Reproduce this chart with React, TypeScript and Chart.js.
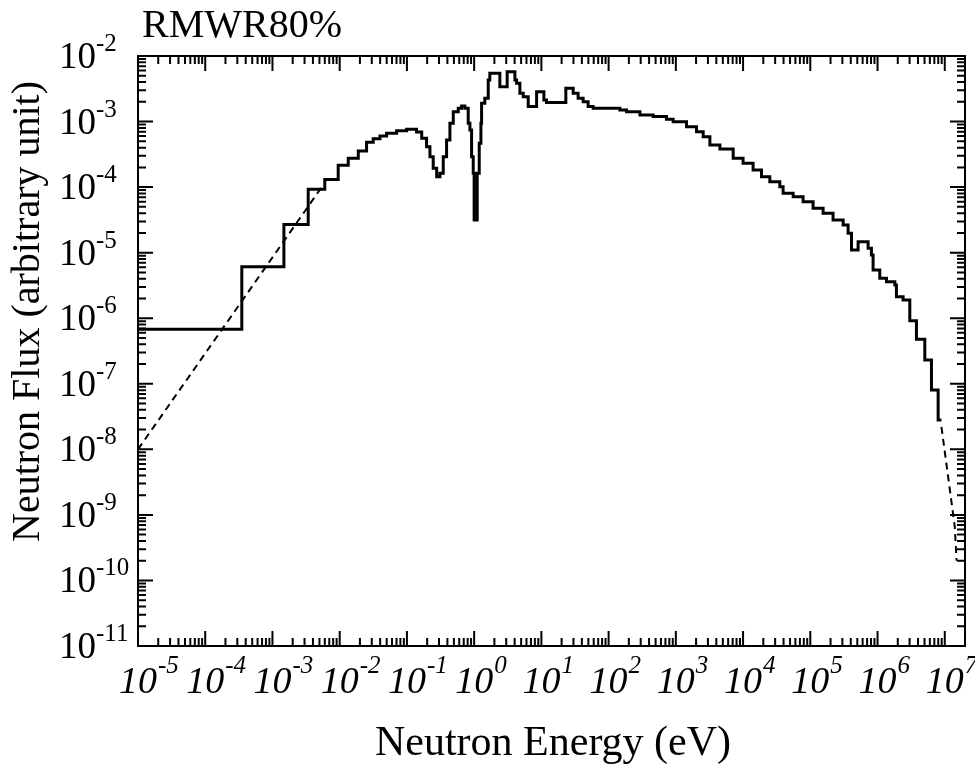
import React, { useEffect, useRef } from 'react';
import { Chart, registerables } from 'chart.js';

Chart.register(...registerables);

// ---- data ----
// lower group boundary energies (eV); the final entry closes the last group
const energyEV = [
  1e-5, 3.5e-4, 1.48e-3, 3.4e-3, 6.0e-3, 9.5e-3, 1.34e-2, 1.89e-2, 2.51e-2, 3.15e-2,
  3.97e-2, 4.99e-2, 7.03e-2, 9.9e-2, 0.139, 0.166, 0.196, 0.22, 0.246, 0.277,
  0.31, 0.347, 0.389, 0.436, 0.489, 0.58, 0.65, 0.728, 0.816, 0.865,
  0.916, 0.969, 1.0, 1.11, 1.19, 1.26, 1.29, 1.44, 1.62, 1.71,
  2.41, 3.1, 4.04, 4.28, 4.79, 5.37, 6.37, 8.49, 10.9, 11.9,
  23.1, 29.7, 35.2, 41.8, 49.6, 58.9, 147, 185, 292, 460,
  726, 912, 1440, 2030, 2550, 3210, 4520, 7130, 1e4, 1.41e4,
  1.88e4, 2.5e4, 3.52e4, 3.94e4, 5.56e4, 7.82e4, 1.1e5, 1.55e5, 2.18e5, 3.08e5,
  3.65e5, 4.1e5, 5.14e5, 7.24e5, 8.11e5, 8.59e5, 1.08e6, 1.36e6, 1.81e6, 1.91e6,
  2.4e6, 3.02e6, 3.79e6, 5.05e6, 6.34e6, 7.97e6, 8.93e6,
];
const fluxGroup = [
  6.8e-7, 6.1e-6, 2.7e-5, 9.3e-5, 1.31e-4, 2.15e-4, 2.75e-4, 3.56e-4, 4.83e-4, 5.48e-4,
  6.03e-4, 6.62e-4, 7.26e-4, 7.62e-4, 6.93e-4, 5.56e-4, 4.14e-4, 2.91e-4, 1.94e-4, 1.44e-4,
  1.63e-4, 2.91e-4, 5.24e-4, 9.4e-4, 1.41e-3, 1.59e-3, 1.73e-3, 1.59e-3, 9.4e-4, 7.43e-4,
  2.91e-4, 1.63e-4, 3.15e-5, 1.63e-4, 4.66e-4, 9.4e-4, 1.9e-3, 2.26e-3, 4.31e-3, 5.44e-3,
  3.4e-3, 5.77e-3, 4.31e-3, 3.83e-3, 2.7e-3, 2.4e-3, 1.69e-3, 2.86e-3, 2.13e-3, 1.96e-3,
  3.21e-3, 2.7e-3, 2.26e-3, 2.01e-3, 1.69e-3, 1.59e-3, 1.5e-3, 1.41e-3, 1.26e-3, 1.19e-3,
  1.08e-3, 9.95e-4, 8.35e-4, 7.0e-4, 5.87e-4, 4.39e-4, 3.81e-4, 2.75e-4, 2.31e-4, 1.82e-4,
  1.44e-4, 1.21e-4, 1.01e-4, 8.03e-5, 7.14e-5, 5.99e-5, 4.74e-5, 3.98e-5, 3.15e-5, 2.64e-5,
  1.97e-5, 1.1e-5, 1.47e-5, 1.17e-5, 9.23e-6, 5.44e-6, 4.07e-6, 3.61e-6, 3.21e-6, 2.13e-6,
  1.9e-6, 9.16e-7, 4.77e-7, 2.31e-7, 8.03e-8, 2.8e-8, 2.8e-8,
];
const dashedLowEnergy = [1e-5, 5.4e-3];
const dashedLowFlux = [1.0e-8, 1.0e-4];
const dashedHighEnergy = [8.93e6, 1.41e7, 1.5e7];
const dashedHighFlux = [2.2e-8, 6.6e-10, 2.0e-10];

const xDecades = [-5, -4, -3, -2, -1, 0, 1, 2, 3, 4, 5, 6, 7];
const yDecades = [-11, -10, -9, -8, -7, -6, -5, -4, -3, -2];
const X_MIN = 1e-5;
const X_MAX = 2e7;
const Y_MIN = 1e-11;
const Y_MAX = 1e-2;

const chartTitle = 'RMWR80%';
const xTitle = 'Neutron Energy (eV)';
const yTitle = 'Neutron Flux (arbitrary unit)';

const FF = '"Liberation Serif", "Times New Roman", "DejaVu Serif", serif';

const annotate = {
  id: 'annotate',
  afterDraw(chart: any) {
    const { ctx, chartArea: a } = chart;
    const xs = chart.scales.x;
    const ys = chart.scales.y;
    ctx.save();
    ctx.strokeStyle = '#000';
    ctx.fillStyle = '#000';
    ctx.lineWidth = 2;
    ctx.strokeRect(a.left, a.top, a.right - a.left, a.bottom - a.top);

    // inward tick marks on all four sides
    ctx.beginPath();
    for (const d of xDecades) {
      for (let k = 1; k <= 9; k++) {
        const v = k * Math.pow(10, d);
        if (v < X_MIN * 0.999 || v > X_MAX * 0.999) continue;
        const px = xs.getPixelForValue(v);
        const len = k === 1 ? 15 : 8;
        ctx.moveTo(px, a.bottom);
        ctx.lineTo(px, a.bottom - len);
        ctx.moveTo(px, a.top);
        ctx.lineTo(px, a.top + len);
      }
    }
    for (const d of yDecades) {
      for (let k = 1; k <= 9; k++) {
        const v = k * Math.pow(10, d);
        if (v < Y_MIN * 0.999 || v > Y_MAX * 1.001) continue;
        const py = ys.getPixelForValue(v);
        const len = k === 1 ? 15 : 8;
        ctx.moveTo(a.left, py);
        ctx.lineTo(a.left + len, py);
        ctx.moveTo(a.right, py);
        ctx.lineTo(a.right - len, py);
      }
    }
    ctx.stroke();

    // y tick labels
    ctx.textBaseline = 'alphabetic';
    for (const t of ys.ticks) {
      const e = Math.round(Math.log10(t.value));
      const py = ys.getPixelForValue(t.value);
      ctx.font = `37px ${FF}`;
      ctx.textAlign = 'left';
      ctx.fillText('10', 59, py + 12);
      const w = ctx.measureText('10').width;
      ctx.font = `25px ${FF}`;
      ctx.fillText(String(e), 59 + w, py - 5);
    }
    // x tick labels
    for (const t of xs.ticks) {
      const e = Math.round(Math.log10(t.value));
      const px = xs.getPixelForValue(t.value);
      ctx.font = `italic 38px ${FF}`;
      ctx.textAlign = 'center';
      ctx.fillText('10', px, 693);
      const w = ctx.measureText('10').width;
      ctx.font = `italic 25px ${FF}`;
      ctx.textAlign = 'left';
      ctx.fillText(String(e), px + w / 2 + 1, 673);
    }

    // titles
    ctx.font = `40px ${FF}`;
    ctx.textAlign = 'left';
    ctx.fillText(chartTitle, 142, 37);
    ctx.font = `42px ${FF}`;
    ctx.textAlign = 'center';
    ctx.fillText(xTitle, 553, 755);
    ctx.translate(39, 311.5);
    ctx.rotate(-Math.PI / 2);
    ctx.font = `40px ${FF}`;
    ctx.textAlign = 'center';
    ctx.fillText(yTitle, 0, 0);
    ctx.restore();
  },
};

export default function App() {
  const ref = useRef<HTMLCanvasElement | null>(null);
  useEffect(() => {
    if (!ref.current) return;
    const solid = energyEV.map((e, i) => ({ x: e, y: fluxGroup[i] }));
    const low = dashedLowEnergy.map((e, i) => ({ x: e, y: dashedLowFlux[i] }));
    const high = dashedHighEnergy.map((e, i) => ({ x: e, y: dashedHighFlux[i] }));
    const chart = new Chart(ref.current, {
      type: 'line',
      data: {
        datasets: [
          {
            data: low,
            borderColor: '#000',
            borderWidth: 2,
            borderDash: [7, 5],
            pointRadius: 0,
            fill: false,
          },
          {
            data: high,
            borderColor: '#000',
            borderWidth: 2,
            borderDash: [7, 5],
            pointRadius: 0,
            fill: false,
          },
          {
            data: solid,
            borderColor: '#000',
            borderWidth: 3,
            stepped: true,
            pointRadius: 0,
            fill: false,
            borderJoinStyle: 'miter',
          },
        ],
      },
      options: {
        animation: false,
        responsive: true,
        maintainAspectRatio: false,
        layout: { padding: { top: 56, right: 10, left: 0, bottom: 0 } },
        plugins: {
          legend: { display: false },
          tooltip: { enabled: false },
          title: { display: false },
        },
        scales: {
          x: {
            type: 'logarithmic',
            min: X_MIN,
            max: X_MAX,
            position: 'bottom',
            grid: { display: false, drawTicks: false },
            border: { display: false },
            ticks: { display: false },
            afterBuildTicks: (s: any) => {
              s.ticks = xDecades.map((d) => ({ value: Math.pow(10, d) }));
            },
            afterFit: (s: any) => {
              s.height = 122;
            },
          },
          y: {
            type: 'logarithmic',
            min: Y_MIN,
            max: Y_MAX,
            position: 'left',
            grid: { display: false, drawTicks: false },
            border: { display: false },
            ticks: { display: false },
            afterBuildTicks: (s: any) => {
              s.ticks = yDecades.map((d) => ({ value: Math.pow(10, d) }));
            },
            afterFit: (s: any) => {
              s.width = 138;
            },
          },
        },
      } as any,
      plugins: [annotate],
    });
    return () => chart.destroy();
  }, []);
  return (
    <div style={{ position: 'fixed', left: 0, top: 0, width: 975, height: 768, background: '#fff' }}>
      <canvas ref={ref} />
    </div>
  );
}
